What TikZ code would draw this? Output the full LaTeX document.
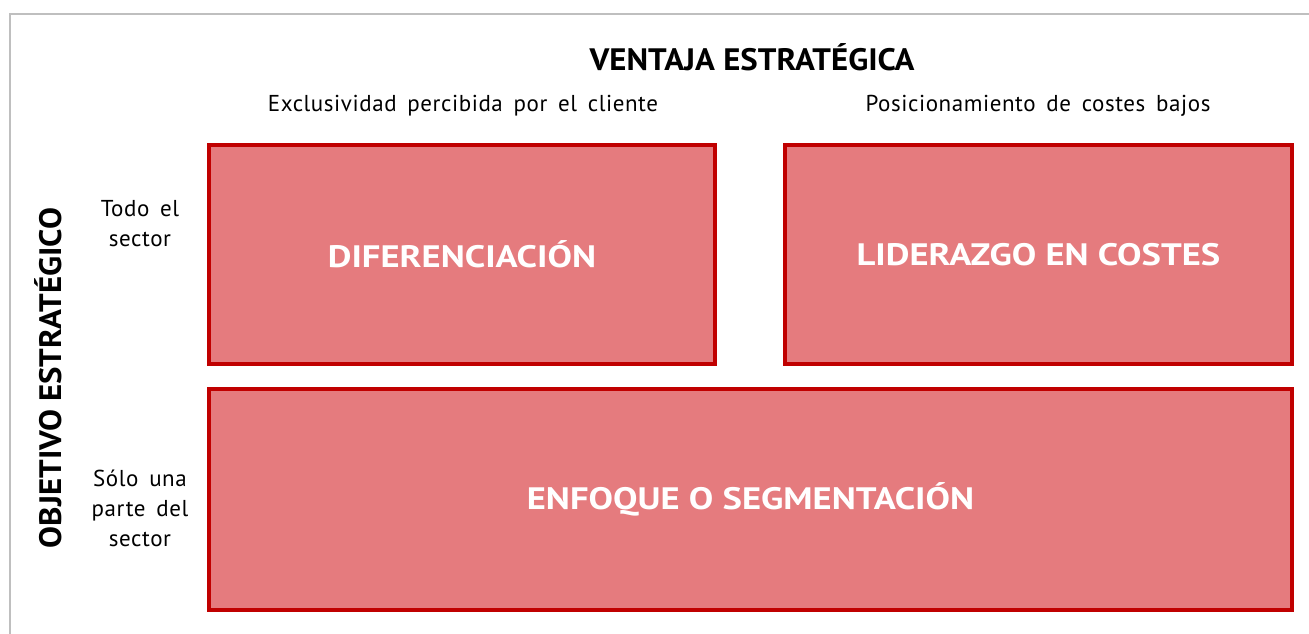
\documentclass[tikz,border=0pt]{standalone}
\usepackage{fontspec}
\setmainfont{PT Sans}
\newfontfamily\cajafont[FakeStretch=1.18]{PT Sans}
\newfontfamily\titulofont[FakeStretch=1.06]{PT Sans}
\newfontfamily\etiquetafont[WordSpace=1.6, LetterSpace=2.5]{PT Sans}
\definecolor{rojoborde}{RGB}{192,0,0}
\definecolor{rojorelleno}{RGB}{229,123,126}
\begin{document}
\begin{tikzpicture}[x=1pt, y=-1pt,
		caja/.style={draw=rojoborde, line width=4pt, fill=rojorelleno, inner sep=0pt, outer sep=0pt,
			text=white, font=\cajafont\fontsize{31}{36}\selectfont\bfseries},
		etiqueta/.style={font=\etiquetafont\fontsize{23}{30}\selectfont, align=center, inner sep=0pt},
		titulo/.style={font=\titulofont\fontsize{31}{36}\selectfont\bfseries, inner sep=0pt}]
	\useasboundingbox (0,0) rectangle (1309,633);
	% marco gris (solo se ven los lados superior e izquierdo)
	\draw[gray!50, line width=2pt] (10,640) -- (10,14) -- (1320,14);
	
	% títulos de los ejes
	\node[titulo] (ventaja) at (752,57) {VENTAJA ESTRATÉGICA};
	\node[titulo, rotate=90] (objetivo) at (48,378) {OBJETIVO ESTRATÉGICO};
	
	% columnas
	\node[etiqueta] (exclusividad) at (463,106) {Exclusividad percibida por el cliente};
	\node[etiqueta] (posicionamiento) at (1038,106) {Posicionamiento de costes bajos};
	
	% filas
	\node[etiqueta] (todo) at (140,224) {Todo el\\sector};
	\node[etiqueta] (parte) at (140,508) {Sólo una\\parte del\\sector};
	
	% estrategias
	\node[caja, minimum width=506pt, minimum height=219pt] (diferenciacion) at (462,254.5) {DIFERENCIACIÓN};
	\node[caja, minimum width=507pt, minimum height=219pt] (liderazgo) at (1038.5,254.5) {LIDERAZGO EN COSTES};
	\node[caja, minimum width=1083pt, minimum height=221pt] (enfoque) at (750.5,499.5) {ENFOQUE O SEGMENTACIÓN};
\end{tikzpicture}
\end{document}
